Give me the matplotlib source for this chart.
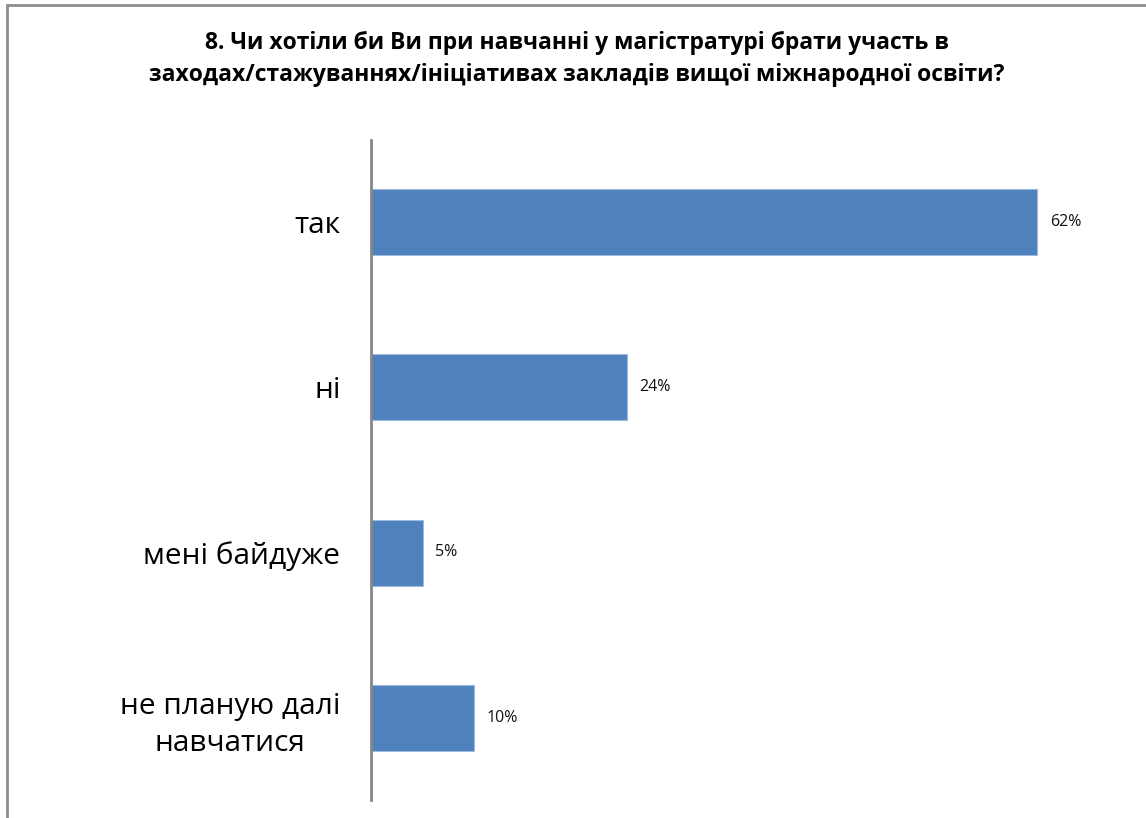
import matplotlib
matplotlib.use('Agg')
import matplotlib.pyplot as plt
from matplotlib.patches import Rectangle

# дані
categories = ['так', 'ні', 'мені байдуже', 'не планую далі\nнавчатися']
values = [62.0, 23.8, 4.8, 9.6]
title = ('8. Чи хотіли би Ви при навчанні у магістратурі брати участь в\n'
         'заходах/стажуваннях/ініціативах закладів вищої міжнародної освіти?')

plt.rcParams['font.family'] = ['Open Sans', 'DejaVu Sans']

fig = plt.figure(figsize=(11.46, 8.18), dpi=100)
fig.patch.set_facecolor('white')

# рамка діаграми
fig.patches.append(Rectangle((7 / 1146, -0.05), 1.2, 1 - 5 / 818 + 0.05,
                             transform=fig.transFigure, fill=False,
                             edgecolor='#8c8c8c', linewidth=2))

ax = fig.add_axes([371 / 1146, 1 - 800 / 818, (1123 - 371) / 1146, 660 / 818])

y = list(range(len(categories)))
ax.barh(y, values, height=0.4, color='#4F81BD', edgecolor='#9DB9DC', linewidth=0.8)

for yi, v in zip(y, values):
    ax.text(v + 1.2, yi, f'{v:.0f}%', va='center', ha='left', fontsize=11.5, color='#111111')

ax.set_xlim(0, 70)
ax.set_ylim(len(categories) - 0.5, -0.5)
ax.set_yticks(y)
ax.set_yticklabels(categories, fontsize=21.5, linespacing=1.38, multialignment='center')
ax.tick_params(axis='y', length=0, pad=22)
ax.set_xticks([])

for s in ['top', 'right', 'bottom']:
    ax.spines[s].set_visible(False)
ax.spines['left'].set_color('#868686')
ax.spines['left'].set_linewidth(2)

fig.text(0.503, 0.928, title, ha='center', va='center', fontsize=16.5,
         fontweight='bold', linespacing=1.45)

fig.savefig('out.png', dpi=100, facecolor='white')
plt.close(fig)
